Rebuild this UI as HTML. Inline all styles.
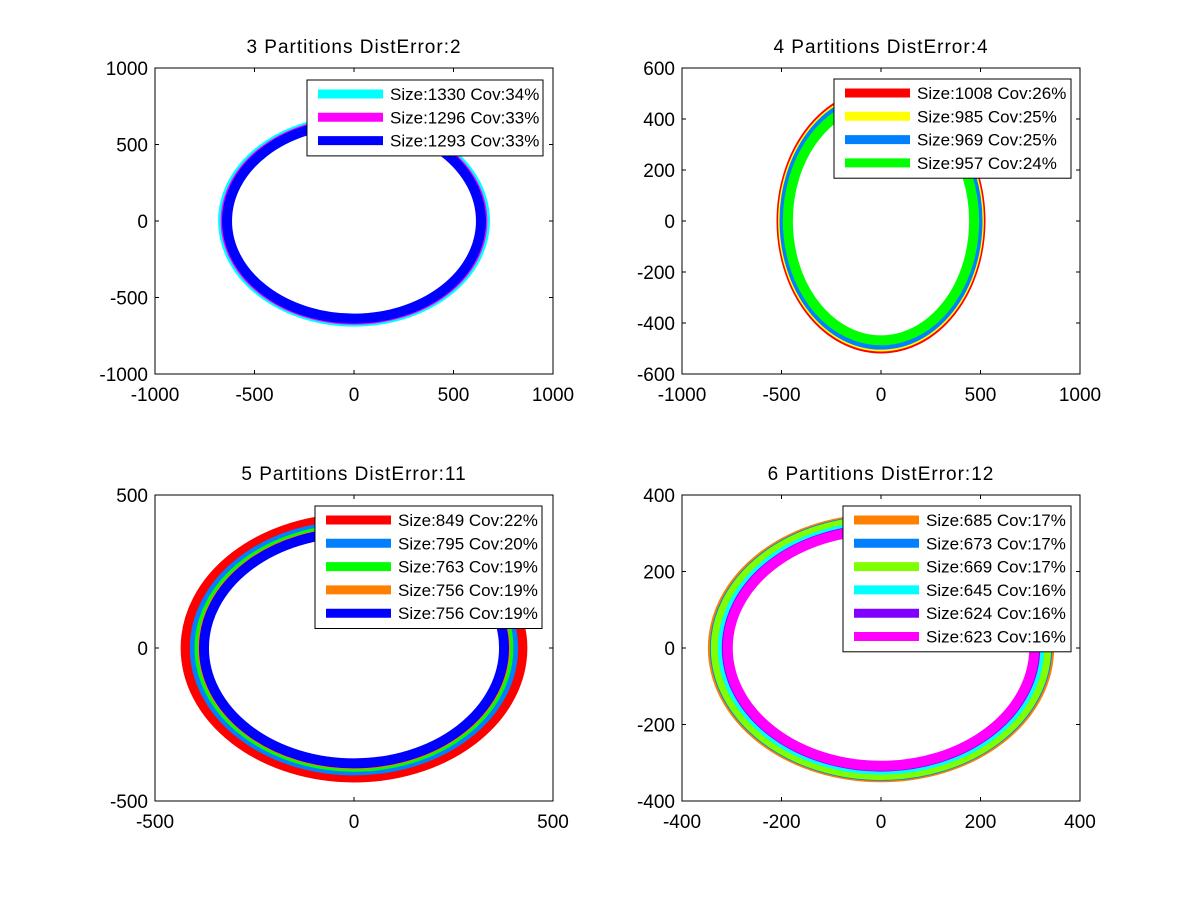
<!DOCTYPE html>
<html><head><meta charset="utf-8">
<style>
html,body{margin:0;padding:0;background:#fff;}
svg{display:block;font-family:"Liberation Sans",sans-serif;}
</style></head>
<body>
<svg id="fig" width="1200" height="901" viewBox="0 0 1200 901" xmlns="http://www.w3.org/2000/svg"></svg>
<script>
// ---- data ----
const titles = ["3 Partitions DistError:2","4 Partitions DistError:4","5 Partitions DistError:11","6 Partitions DistError:12"];
const xTicks1 = [-1000,-500,0,500,1000];
const yTicks1 = [-1000,-500,0,500,1000];
const xTicks2 = [-1000,-500,0,500,1000];
const yTicks2 = [-600,-400,-200,0,200,400,600];
const xTicks3 = [-500,0,500];
const yTicks3 = [-500,0,500];
const xTicks4 = [-400,-200,0,200,400];
const yTicks4 = [-400,-200,0,200,400];
const sizes1 = [1330,1296,1293];
const covs1 = [34,33,33];
const radii1 = [658,645,638];
const colors1 = ["#00ffff","#ff00ff","#0000ff"];
const sizes2 = [1008,985,969,957];
const covs2 = [26,25,25,24];
const radii2 = [500,492,485,468];
const colors2 = ["#ff0000","#ffff00","#0080ff","#00ff00"];
const sizes3 = [849,795,763,756,756];
const covs3 = [22,20,19,19,19];
const radii3 = [423,400,388,380,377];
const colors3 = ["#ff0000","#0080ff","#00ff00","#ff8000","#0000ff"];
const sizes4 = [685,673,669,645,624,623];
const covs4 = [17,17,17,16,16,16];
const radii4 = [338,334,332,318,310,308];
const colors4 = ["#ff8000","#0080ff","#80ff00","#00ffff","#8000ff","#ff00ff"];

const NS="http://www.w3.org/2000/svg";
const svg=document.getElementById('fig');
function mk(tag,attrs,parent){const e=document.createElementNS(NS,tag);for(const k in attrs)e.setAttribute(k,attrs[k]);(parent||svg).appendChild(e);return e;}

const panels=[
 {x0:155,y0:68,x1:553,y1:374,xt:xTicks1,yt:yTicks1,r:radii1,c:colors1,s:sizes1,v:covs1,leg:{x:307,y:80,w:236}},
 {x0:682,y0:68,x1:1080,y1:374,xt:xTicks2,yt:yTicks2,r:radii2,c:colors2,s:sizes2,v:covs2,leg:{x:834,y:79,w:237}},
 {x0:155,y0:495,x1:553,y1:801,xt:xTicks3,yt:yTicks3,r:radii3,c:colors3,s:sizes3,v:covs3,leg:{x:315,y:506,w:227}},
 {x0:682,y0:495,x1:1080,y1:801,xt:xTicks4,yt:yTicks4,r:radii4,c:colors4,s:sizes4,v:covs4,leg:{x:843,y:506,w:228}}
];

panels.forEach((p,i)=>{
  const g=mk('g',{});
  
  
  const xmin=p.xt[0],xmax=p.xt[p.xt.length-1],ymin=p.yt[0],ymax=p.yt[p.yt.length-1];
  const sx=v=>p.x0+(v-xmin)/(xmax-xmin)*(p.x1-p.x0);
  const sy=v=>p.y1-(v-ymin)/(ymax-ymin)*(p.y1-p.y0);
  const kx=(p.x1-p.x0)/(xmax-xmin), ky=(p.y1-p.y0)/(ymax-ymin);
  p.r.forEach((r,j)=>{
    const e=mk('ellipse',{cx:sx(0),cy:sy(0),rx:r*kx,ry:r*ky,fill:'none',stroke:p.c[j],'stroke-width':10},g);
    
    
  });
  const box=mk('rect',{x:p.x0,y:p.y0,width:p.x1-p.x0,height:p.y1-p.y0,fill:'none',stroke:'#000','stroke-width':1},g);
  
  
  p.xt.forEach(t=>{
    const x=sx(t);
    mk('line',{x1:x,y1:p.y1,x2:x,y2:p.y1-4,stroke:'#000'},g);
    mk('line',{x1:x,y1:p.y0,x2:x,y2:p.y0+4,stroke:'#000'},g);
    const tx=mk('text',{x:x,y:p.y1+27,'text-anchor':'middle','font-size':19},g);
    tx.textContent=t;
    
    
  });
  p.yt.forEach(t=>{
    const y=sy(t);
    mk('line',{x1:p.x0,y1:y,x2:p.x0+4,y2:y,stroke:'#000'},g);
    mk('line',{x1:p.x1,y1:y,x2:p.x1-4,y2:y,stroke:'#000'},g);
    const ty=mk('text',{x:p.x0-7,y:y+7,'text-anchor':'end','font-size':19},g);
    ty.textContent=t;
    
    
  });
  const ti=mk('text',{x:(p.x0+p.x1)/2,y:p.y0-15,'text-anchor':'middle','font-size':19,'letter-spacing':1},g);
  ti.textContent=titles[i];
  
  
  const n=p.s.length, L=p.leg, h=n*23.3+6;
  const lg=mk('g',{},g);
  
  
  mk('rect',{x:L.x,y:L.y,width:L.w,height:h,fill:'#fff',stroke:'#000'},lg);
  p.s.forEach((s,j)=>{
    const y=L.y+14+j*23.3;
    const ln=mk('line',{x1:L.x+11,y1:y,x2:L.x+76,y2:y,stroke:p.c[j],'stroke-width':9},lg);
    
    
    const t=mk('text',{x:L.x+83,y:y+6,'font-size':17},lg);
    t.textContent='Size:'+s+' Cov:'+p.v[j]+'%';
    
    
  });
});
</script>
</body></html>
